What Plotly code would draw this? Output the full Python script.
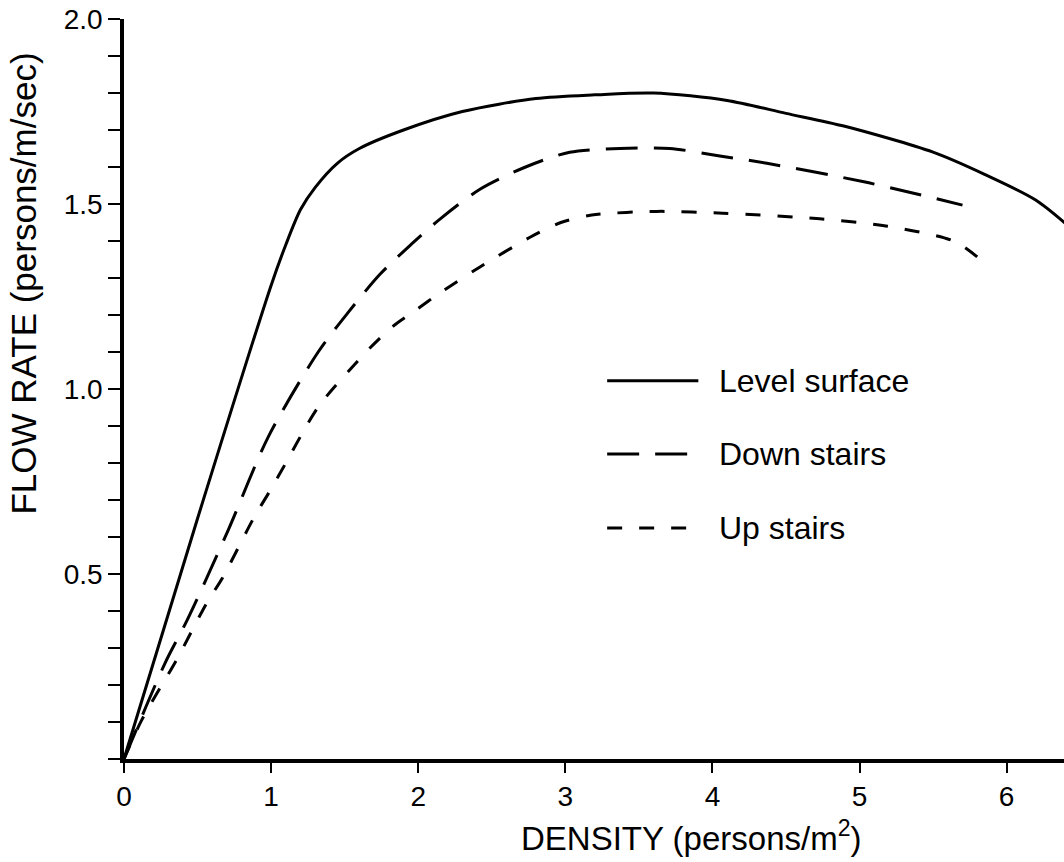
import plotly.graph_objects as go

# Data
level_x = [0, 0.5, 1.0, 1.1, 1.2, 1.3, 1.45, 1.6, 1.9, 2.3, 2.8, 3.2, 3.6, 4.1, 4.5, 4.9, 5.5, 5.85, 6.2, 6.45]
level_y = [0, 0.65, 1.28, 1.39, 1.485, 1.545, 1.61, 1.65, 1.70, 1.75, 1.785, 1.795, 1.80, 1.78, 1.745, 1.71, 1.64, 1.58, 1.51, 1.43]

down_x = [0, 0.28, 0.43, 0.71, 0.98, 1.32, 1.52, 1.74, 1.95, 2.15, 2.42, 2.73, 3.03, 3.37, 3.71, 4.05, 4.37, 5.03, 5.70]
down_y = [0, 0.26, 0.376, 0.62, 0.87, 1.10, 1.205, 1.31, 1.39, 1.46, 1.54, 1.60, 1.64, 1.65, 1.65, 1.63, 1.61, 1.56, 1.497]

up_x = [0, 0.12, 0.36, 0.56, 0.67, 0.88, 1.0, 1.10, 1.22, 1.33, 1.67, 1.83, 1.99, 2.13, 2.42, 2.76, 2.97, 3.18, 3.62, 4.07, 4.73, 5.19, 5.64, 5.80]
up_y = [0, 0.105, 0.27, 0.42, 0.49, 0.65, 0.73, 0.80, 0.886, 0.957, 1.11, 1.17, 1.215, 1.255, 1.33, 1.41, 1.45, 1.47, 1.48, 1.475, 1.46, 1.44, 1.40, 1.357]

x_ticks = [0, 1, 2, 3, 4, 5, 6]
x_ticklabels = ["0", "1", "2", "3", "4", "5", "6"]
y_ticks = [0.5, 1.0, 1.5, 2.0]
y_ticklabels = ["0.5", "1.0", "1.5", "2.0"]
y_minor_ticks = [round(i * 0.1, 1) for i in range(21) if i % 5 != 0] + [0.0]

series_names = ["Level surface", "Down stairs", "Up stairs"]
dashes = ["solid", "32px,16px", "15px,17px"]

FONT = "Liberation Sans, Arial, sans-serif"

fig = go.Figure()
for xs, ys, name, d in zip([level_x, down_x, up_x], [level_y, down_y, up_y], series_names, dashes):
    fig.add_trace(go.Scatter(x=xs, y=ys, mode="lines", name=name,
                             line=dict(color="black", width=3, dash=d, shape="spline", smoothing=0.8),
                             showlegend=False, hoverinfo="skip"))

fig.update_layout(
    width=1064, height=862,
    margin=dict(l=124, r=0, t=19, b=103),
    paper_bgcolor="white", plot_bgcolor="white",
    font=dict(family=FONT, color="black"),
    xaxis=dict(range=[0, 6.39], tickmode="array", tickvals=x_ticks, ticktext=x_ticklabels,
               ticks="outside", ticklen=10, tickwidth=2, tickcolor="black",
               showline=True, linewidth=3.5, linecolor="black", showgrid=False, zeroline=False,
               tickfont=dict(size=28, family=FONT, color="black")),
    yaxis=dict(range=[0, 2.0], tickmode="array", tickvals=y_ticks, ticktext=y_ticklabels,
               ticks="outside", ticklen=12, tickwidth=2, tickcolor="black",
               showline=True, linewidth=3.5, linecolor="black", showgrid=False, zeroline=False,
               tickfont=dict(size=28, family=FONT, color="black"),
               minor=dict(tickmode="array", tickvals=y_minor_ticks, ticks="outside",
                          ticklen=12, tickwidth=2, tickcolor="black", showgrid=False)),
)

# Axis titles
fig.add_annotation(text="DENSITY (persons/m<sup>2</sup>)", xref="paper", yref="paper",
                   x=0.604, y=-0.104, showarrow=False, xanchor="center", yanchor="middle",
                   font=dict(size=33, family=FONT, color="black"))
fig.add_annotation(text="FLOW RATE (persons/m/sec)", xref="paper", yref="paper",
                   x=-0.107, y=0.643, showarrow=False, xanchor="center", yanchor="middle",
                   textangle=-90, font=dict(size=35, family=FONT, color="black"))

# Legend drawn manually
leg_y = [0.511, 0.412, 0.312]
for name, d, yy in zip(series_names, dashes, leg_y):
    fig.add_shape(type="line", xref="paper", yref="paper", x0=0.514, x1=0.611, y0=yy, y1=yy,
                  line=dict(color="black", width=3, dash=d))
    fig.add_annotation(text=name, xref="paper", yref="paper", x=0.631, y=yy, showarrow=False,
                       xanchor="left", yanchor="middle", font=dict(size=32, family=FONT, color="black"))

fig.write_html("out.html")
